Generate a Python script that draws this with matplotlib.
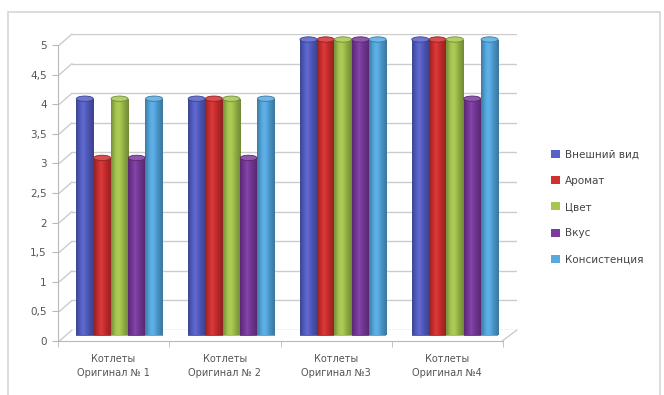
import numpy as np
import matplotlib
matplotlib.use("Agg")
import matplotlib.pyplot as plt
from matplotlib.patches import Rectangle, Ellipse, ConnectionPatch
from matplotlib.colors import to_rgb

categories = ["Котлеты\nОригинал № 1", "Котлеты\nОригинал № 2",
              "Котлеты\nОригинал №3", "Котлеты\nОригинал №4"]
series_names = ["Внешний вид", "Аромат", "Цвет", "Вкус", "Консистенция"]
vneshniy_vid = [4, 4, 5, 5]
aromat = [3, 4, 5, 5]
cvet = [4, 4, 5, 5]
vkus = [3, 3, 5, 4]
konsistenciya = [4, 4, 5, 5]
series_values = [vneshniy_vid, aromat, cvet, vkus, konsistenciya]
colors = ["#5560c8", "#d22f2f", "#a6c64e", "#7b3a9e", "#55aae2"]
ytick_vals = [0, 0.5, 1, 1.5, 2, 2.5, 3, 3.5, 4, 4.5, 5]
ytick_labels = ["0", "0,5", "1", "1,5", "2", "2,5", "3", "3,5", "4", "4,5", "5"]

W, H = 664, 395
fig = plt.figure(figsize=(W / 100, H / 100), dpi=100)
fig.patch.set_facecolor("white")


def px_axes(left, right, top, bottom, **kw):
    return fig.add_axes([left / W, (H - bottom) / H, (right - left) / W,
                         (bottom - top) / H], **kw)


# chart area frame
fig.add_artist(Rectangle((8 / W, -0.05), (660 - 8) / W, (H - 12) / H + 0.05,
                         transform=fig.transFigure, fill=False,
                         edgecolor="#d6d6d6", linewidth=1.2))

xlim = (-0.4875, 3.493)
ylim = (0, 5)

# back wall (grid), middle (bars), front plane (axis, labels)
ax_back = px_axes(72, 517, 34, 330)
ax_mid = px_axes(65, 510, 39.5, 335.5)
ax_front = px_axes(58, 503, 45, 341)
for a in (ax_back, ax_mid, ax_front):
    a.set_xlim(*xlim)
    a.set_ylim(*ylim)
    a.patch.set_alpha(0)
ax_back.set_zorder(0)
ax_mid.set_zorder(2)
ax_front.set_zorder(1)

grid_c = "#cccccc"
ax_back.set_xticks([])
ax_back.set_yticks([])
for s in ax_back.spines.values():
    s.set_visible(False)
for v in ytick_vals:
    ax_back.axhline(v, color=grid_c, linewidth=1.0)

# slanted connectors between front axis and back wall
for v in ytick_vals:
    fig.add_artist(ConnectionPatch(xyA=(xlim[0], v), coordsA=ax_front.transData,
                                   xyB=(xlim[0], v), coordsB=ax_back.transData,
                                   color=grid_c, linewidth=1.0))
fig.add_artist(ConnectionPatch(xyA=(xlim[1], 0), coordsA=ax_front.transData,
                               xyB=(xlim[1], 0), coordsB=ax_back.transData,
                               color=grid_c, linewidth=1.0))

# front plane axis
for k in ("top", "right"):
    ax_front.spines[k].set_visible(False)
ax_front.spines["left"].set_color("#b8b8b8")
ax_front.spines["bottom"].set_color("#b8b8b8")
ax_front.set_yticks(ytick_vals)
ax_front.set_yticklabels(ytick_labels)
ax_front.tick_params(axis="y", length=4, color="#b8b8b8", labelsize=7.5,
                     labelcolor="#555555", pad=4)
x = np.arange(len(categories))
ax_front.set_xticks(x)
ax_front.set_xticklabels(categories, linespacing=1.6)
ax_front.set_xticks(np.arange(-0.5, len(categories)), minor=True)
ax_front.tick_params(axis="x", which="major", length=0, labelsize=7,
                     labelcolor="#555555", pad=9)
ax_front.tick_params(axis="x", which="minor", length=4, color="#b8b8b8")

# cylinder-like bars
ax_mid.axis("off")
n = len(series_values)
bw = 0.155
shade = np.linspace(0, 1, 64)
# light band slightly left of centre, darker edges
profile = 0.55 + 0.55 * np.exp(-((shade - 0.4) / 0.28) ** 2) - 0.25 * (np.abs(shade - 0.5) * 2) ** 3


def shaded(color):
    base = np.array(to_rgb(color))
    rows = []
    for p in profile:
        if p >= 1:
            c = base + (1 - base) * min(p - 1, 1) * 0.6
        else:
            c = base * (0.55 + 0.45 * p)
        rows.append(np.clip(c, 0, 1))
    return np.array(rows)[None, :, :]


for i, (vals, col) in enumerate(zip(series_values, colors)):
    xs = x + (i - (n - 1) / 2) * bw
    bars = ax_mid.bar(xs, vals, width=bw, color=col, edgecolor="none", zorder=2)
    img = shaded(col)
    for b in bars:
        x0, w, h = b.get_x(), b.get_width(), b.get_height()
        im = ax_mid.imshow(img, extent=(x0, x0 + w, 0, h), aspect="auto",
                           zorder=3, interpolation="bilinear")
        im.set_clip_path(b)
        top_c = np.clip(np.array(to_rgb(col)) * 0.85 + 0.15, 0, 1)
        ax_mid.add_patch(Ellipse((x0 + w / 2, h), w * 0.98, 0.09,
                                 facecolor=top_c,
                                 edgecolor=np.array(to_rgb(col)) * 0.7,
                                 linewidth=0.6, zorder=4, clip_on=False))
ax_mid.set_xlim(*xlim)
ax_mid.set_ylim(*ylim)

# legend
handles = [Rectangle((0, 0), 1, 1, facecolor=c, edgecolor="none") for c in colors]
fig.legend(handles, series_names, loc="center left",
           bbox_to_anchor=(542 / W, (H - 207) / H), frameon=False,
           fontsize=7.5, labelcolor="#444444", handlelength=0.8,
           handleheight=0.8, handletextpad=0.5, labelspacing=1.55)

fig.savefig("out.png", dpi=100, facecolor="white")
